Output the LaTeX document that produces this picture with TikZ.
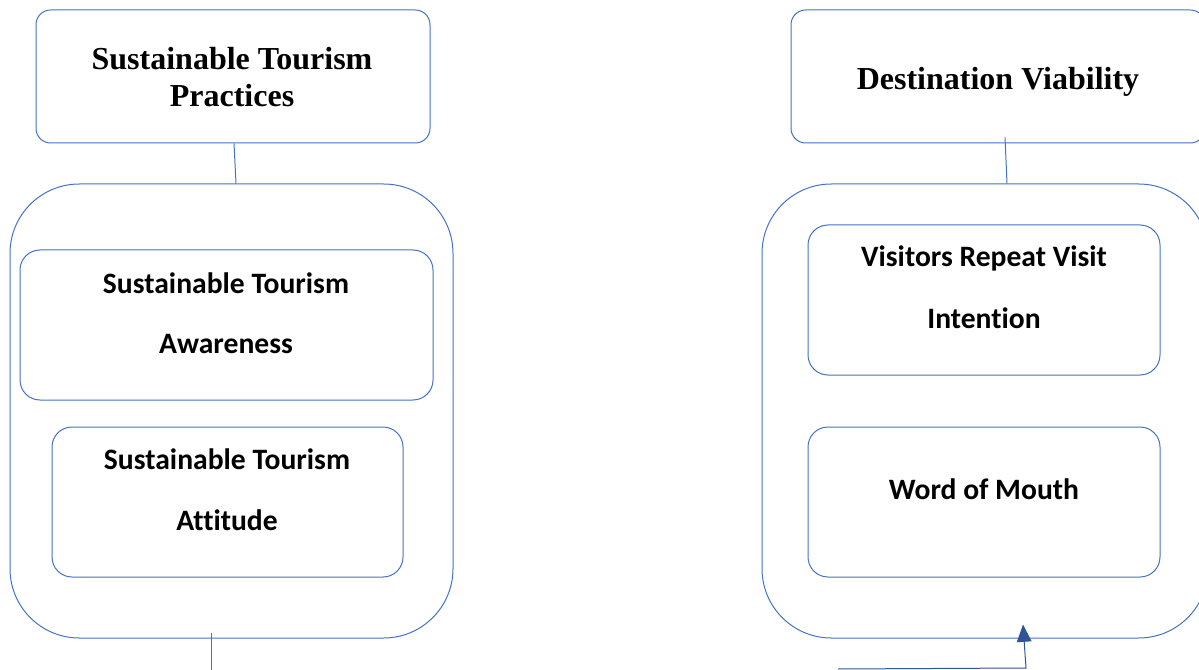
\documentclass[tikz,border=0pt]{standalone}
\usepackage{fontspec}
\setmainfont{Liberation Serif}
\newfontfamily\carl[Ligatures=NoCommon]{Carlito}
\usetikzlibrary{arrows.meta,calc}
\definecolor{ln}{HTML}{4472C4}
\definecolor{arr}{HTML}{2F5597}
\begin{document}
\begin{tikzpicture}[x=0.75pt,y=-0.75pt,
  box/.style={draw=ln,line width=0.75pt,rounded corners=#1,inner sep=0pt},
  box/.default=15pt,
  ttl/.style={font=\bfseries\fontsize{24}{28}\selectfont,anchor=base,inner sep=0pt},
  itm/.style={font=\carl\bfseries\fontsize{22.2}{26}\selectfont,anchor=base,inner sep=0pt},
  conn/.style={draw=ln,line width=0.75pt}]
\useasboundingbox (0,0) rectangle (1199,670);
\begin{scope}
\clip (0,0) rectangle (1199,670);
% left column
\node[box=11pt,minimum width=394*0.75pt,minimum height=133*0.75pt] (tl) at (233,76.5) {};
\node[box=52pt,minimum width=443*0.75pt,minimum height=454*0.75pt] (bl) at (231.5,411) {};
\node[box=15pt,minimum width=413*0.75pt,minimum height=150*0.75pt] (aw) at (226.5,325) {};
\node[box=15pt,minimum width=351*0.75pt,minimum height=150*0.75pt] (at) at (227.5,502) {};
\node[ttl] (t1) at (232,70) {Sustainable Tourism};
\node[ttl] (t2) at (232,107) {Practices};
\node[itm] (a1) at (226,293) {Sustainable Tourism};
\node[itm] (a2) at (226,353) {Awareness};
\node[itm] (b1) at (227,469) {Sustainable Tourism};
\node[itm] (b2) at (227,530) {Attitude};
% right column
\node[box=11pt,minimum width=414*0.75pt,minimum height=133*0.75pt] (tr) at (998,76.5) {};
\node[box=52pt,minimum width=446*0.75pt,minimum height=454*0.75pt] (br) at (985,411) {};
\node[box=15pt,minimum width=352*0.75pt,minimum height=150*0.75pt] (rv) at (984,300) {};
\node[box=15pt,minimum width=352*0.75pt,minimum height=150*0.75pt] (wm) at (984,502) {};
\node[ttl] (d1) at (998,90) {Destination Viability};
\node[itm] (r1) at (984,267) {Visitors Repeat Visit};
\node[itm] (r2) at (984,328) {Intention};
\node[itm] (w1) at (984,499) {Word of Mouth};
% connectors
\draw[conn] ($(tl.south)+(1,0)$) -- ($(bl.north)+(4.5,0)$);
\draw[conn] ($(tr.south)+(7,-6)$) -- ($(br.north)+(22,0)$);
\coordinate (lb) at (211,670);
\draw[conn] ($(bl.south)+(-20.5,-6)$) -- (lb);
\coordinate (ra) at (838,669);
\coordinate (rc) at (1026,668);
\draw[draw=arr,line width=0.75pt,-{Triangle[length=13pt,width=11pt]}] (ra) -- (rc) -- ($(br.south)+(38,-14)$);
\end{scope}
\end{tikzpicture}
\end{document}
